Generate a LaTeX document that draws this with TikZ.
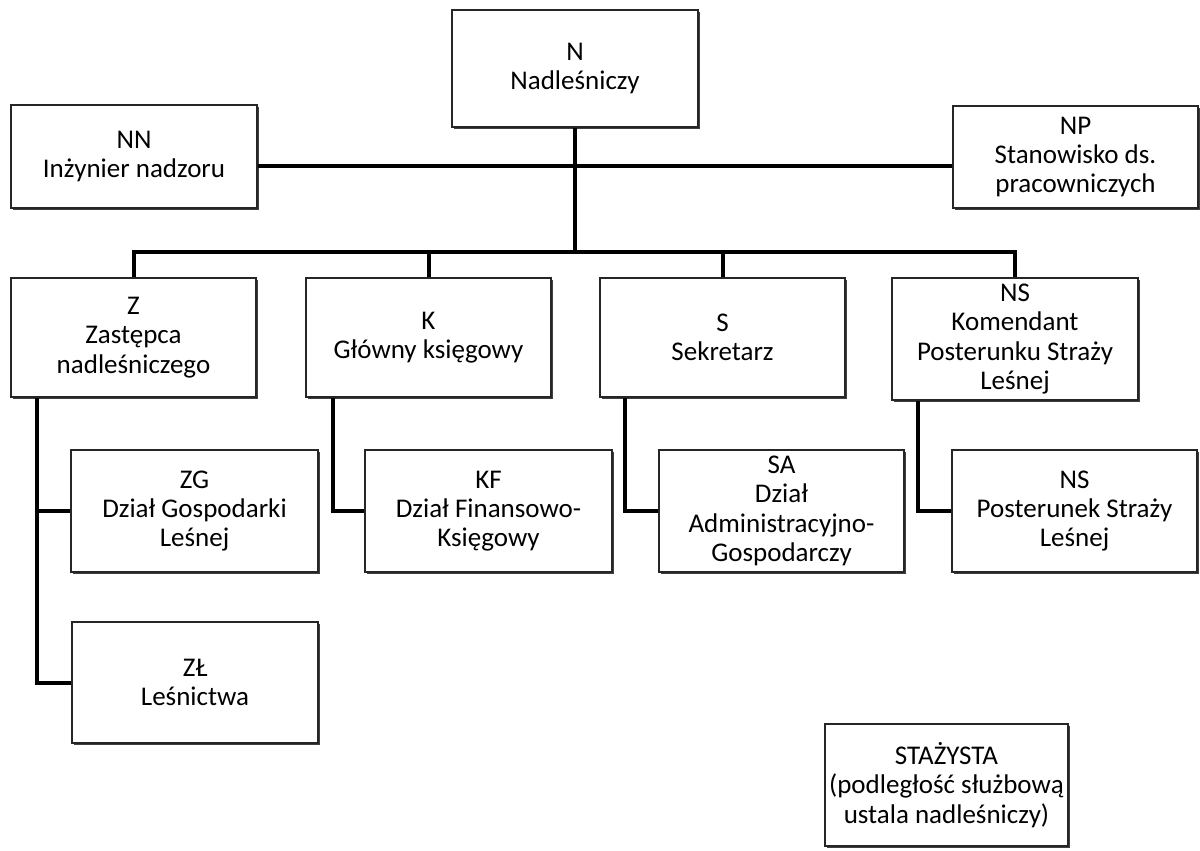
\documentclass[tikz,border=0pt]{standalone}
\usepackage{fontspec}
\setmainfont{Carlito}
\usetikzlibrary{shadows}
\begin{document}
\begin{tikzpicture}[x=0.5pt,y=-0.5pt,
  box/.style={draw=black!85, line width=0.6pt, fill=white, align=center,
    inner sep=1pt, font=\fontsize{13.5}{14.6}\selectfont,
    drop shadow={shadow xshift=0.8pt, shadow yshift=-1.2pt, fill=black!75, opacity=1}},
  conn/.style={line width=2pt, black, line join=miter}]
\useasboundingbox (0,0) rectangle (1200,851);
\fill[white] (0,0) rectangle (1200,851);
% top level
\node[box, minimum width=123pt, minimum height=58.5pt] (N) at (575,68.5) {N\\Nadleśniczy};
\node[box, minimum width=123pt, minimum height=51.5pt] (NN) at (134,156.5) {NN\\Inżynier nadzoru};
\node[box, minimum width=122.5pt, minimum height=51pt] (NP) at (1075.5,157) {NP\\Stanowisko ds.\\pracowniczych};
% second level
\node[box, minimum width=122.5pt, minimum height=59.5pt] (Z) at (133.5,337.5) {Z\\Zastępca\\nadleśniczego};
\node[box, minimum width=122.5pt, minimum height=59.5pt] (K) at (428.5,337.5) {K\\Główny księgowy};
\node[box, minimum width=122.5pt, minimum height=59.5pt] (S) at (722.5,337.5) {S\\Sekretarz};
\node[box, minimum width=123pt, minimum height=61pt] (NSK) at (1015,339) {NS\\Komendant\\Posterunku Straży\\Leśnej};
% third level
\node[box, minimum width=123.5pt, minimum height=61pt] (ZG) at (194.5,511) {ZG\\Dział Gospodarki\\Leśnej};
\node[box, minimum width=123.5pt, minimum height=61pt] (KF) at (488.5,511) {KF\\Dział Finansowo-\\Księgowy};
\node[box, minimum width=122.5pt, minimum height=61pt] (SA) at (781.5,511) {SA\\Dział\\Administracyjno-\\Gospodarczy};
\node[box, minimum width=122.5pt, minimum height=61pt] (NSP) at (1074.5,511) {NS\\Posterunek Straży\\Leśnej};
\node[box, minimum width=123pt, minimum height=60.5pt] (ZL) at (195,682.5) {ZŁ\\Leśnictwa};
\node[box, minimum width=121.5pt, minimum height=61pt] (ST) at (946.5,785) {STAŻYSTA\\(podległość służbową\\ustala nadleśniczy)};
% helper coordinates
\coordinate (bar) at (0,252);
\coordinate (hl) at (0,166);
\coordinate (zd) at (37,0);
\coordinate (kd) at (333,0);
\coordinate (sd) at (625,0);
\coordinate (nd) at (918,0);
% connectors
\draw[conn] (NN.east |- hl) -- (NP.west |- hl);
\draw[conn] (N.south) -- (N.south |- bar);
\draw[conn] (Z.north) -- (Z.north |- bar) -- (NSK.north |- bar) -- (NSK.north);
\draw[conn] (K.north) -- (K.north |- bar);
\draw[conn] (S.north) -- (S.north |- bar);
\draw[conn] (Z.south -| zd) |- (ZL.west);
\draw[conn] (zd |- ZG.west) -- (ZG.west);
\draw[conn] (K.south -| kd) |- (KF.west);
\draw[conn] (S.south -| sd) |- (SA.west);
\draw[conn] (NSK.south -| nd) |- (NSP.west);
\end{tikzpicture}
\end{document}
